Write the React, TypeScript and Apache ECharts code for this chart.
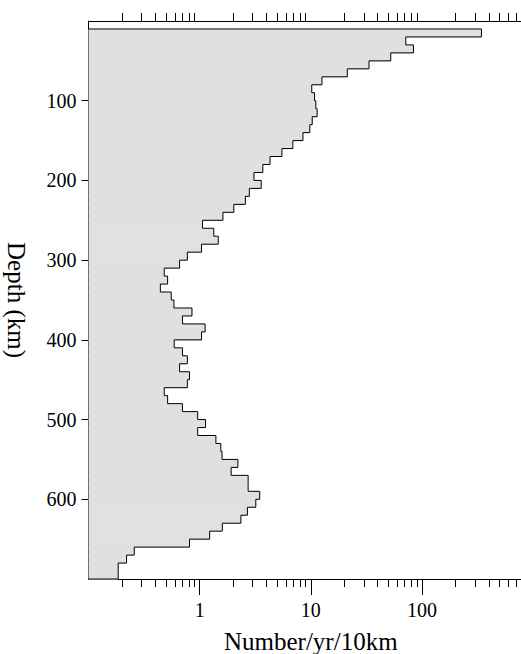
import React, { useEffect, useRef } from "react";
import * as echarts from "echarts";

// Depth bins (top of each 10 km bin), km
const binTops: number[] = [
  10, 20, 30, 40, 50, 60, 70, 80, 90, 100,
  110, 120, 130, 140, 150, 160, 170, 180, 190, 200,
  210, 220, 230, 240, 250, 260, 270, 280, 290, 300,
  310, 320, 330, 340, 350, 360, 370, 380, 390, 400,
  410, 420, 430, 440, 450, 460, 470, 480, 490, 500,
  510, 520, 530, 540, 550, 560, 570, 580, 590, 600,
  610, 620, 630, 640, 650, 660, 670, 680, 690,
];
const binWidth = 10;

// Number of events per year per 10 km
const rates: number[] = [
  343, 71.5, 83.8, 52.4, 33.4, 21.3, 12.6, 10.2, 10.8, 11.1,
  11.4, 10.3, 9.8, 8.5, 6.9, 5.5, 4.3, 3.7, 3.08, 3.58,
  2.8, 2.58, 2.03, 1.62, 1.06, 1.34, 1.47, 1.04, 0.775, 0.66,
  0.48, 0.515, 0.443, 0.555, 0.587, 0.853, 0.7, 1.12, 1.04, 0.59,
  0.7, 0.775, 0.66, 0.81, 0.775, 0.48, 0.515, 0.7, 0.96, 1.13,
  0.96, 1.4, 1.55, 1.59, 2.21, 1.92, 2.73, 2.73, 3.47, 3.2,
  2.69, 2.35, 1.6, 1.23, 0.81, 0.258, 0.22, 0.185, 0.185,
];

const X_MIN = 0.1;
const X_MAX = 1000;
const Y_MIN = 0;
const Y_MAX = 700;

const majorTicks: number[] = [1, 10, 100];
const minorTicks: number[] = [
  0.2, 0.3, 0.4, 0.5, 0.6, 0.7, 0.8, 0.9,
  2, 3, 4, 5, 6, 7, 8, 9,
  20, 30, 40, 50, 60, 70, 80, 90,
  200, 300, 400, 500, 600, 700, 800, 900,
];
const depthTicks: number[] = [100, 200, 300, 400, 500, 600];

const FONT = "'Liberation Serif', 'Times New Roman', serif";

export default function App() {
  const ref = useRef<HTMLDivElement>(null);

  useEffect(() => {
    if (!ref.current) return;
    const chart = echarts.init(ref.current, undefined, { renderer: "svg" });

    const fillData = rates.map((v, i) => [v, binTops[i], binTops[i] + binWidth]);
    const outline: number[][] = [[X_MIN, binTops[0]]];
    rates.forEach((v, i) => {
      outline.push([v, binTops[i]]);
      outline.push([v, binTops[i] + binWidth]);
    });
    outline.push([X_MIN, binTops[binTops.length - 1] + binWidth]);

    const tickStyle = { color: "#000", width: 1 };
    const shownLine = { show: true, onZero: false, lineStyle: { color: "#000", width: 1 } };

    chart.setOption({
      animation: false,
      backgroundColor: "#fff",
      grid: {
        left: 88.5,
        top: 21,
        width: 444.6,
        height: 558,
        outerBoundsMode: "none",
      },
      xAxis: [
        {
          type: "log",
          logBase: 10,
          min: X_MIN,
          max: X_MAX,
          position: "bottom",
          axisLine: shownLine,
          axisTick: {
            show: true,
            customValues: majorTicks,
            length: 16,
            lineStyle: tickStyle,
          },
          axisLabel: {
            show: true,
            customValues: majorTicks,
            margin: 21,
            fontSize: 20,
            fontFamily: FONT,
            color: "#000",
          },
          splitLine: { show: false },
          minorTick: { show: false },
          name: "Number/yr/10km",
          nameLocation: "middle",
          nameGap: 50,
          nameTextStyle: { fontSize: 25, fontFamily: FONT, color: "#000" },
        },
        {
          type: "log",
          logBase: 10,
          min: X_MIN,
          max: X_MAX,
          position: "bottom",
          axisLine: { show: false, onZero: false },
          axisTick: {
            show: true,
            customValues: minorTicks,
            length: 8,
            lineStyle: tickStyle,
          },
          axisLabel: { show: false },
          splitLine: { show: false },
        },
        {
          type: "log",
          logBase: 10,
          min: X_MIN,
          max: X_MAX,
          position: "top",
          axisLine: shownLine,
          axisTick: {
            show: true,
            customValues: minorTicks,
            length: 8,
            lineStyle: tickStyle,
          },
          axisLabel: { show: false },
          splitLine: { show: false },
        },
      ],
      yAxis: {
        type: "value",
        inverse: true,
        min: Y_MIN,
        max: Y_MAX,
        interval: 100,
        axisLine: shownLine,
        axisTick: {
          show: true,
          customValues: depthTicks,
          length: 7,
          lineStyle: tickStyle,
        },
        axisLabel: {
          show: true,
          customValues: depthTicks,
          margin: 12,
          fontSize: 20,
          fontFamily: FONT,
          color: "#000",
        },
        splitLine: { show: false },
        name: "Depth (km)",
        nameLocation: "middle",
        nameRotate: -90,
        nameGap: 60,
        nameTextStyle: { fontSize: 25, fontFamily: FONT, color: "#000" },
      },
      series: [
        {
          type: "custom",
          xAxisIndex: 0,
          yAxisIndex: 0,
          silent: true,
          encode: { x: 0, y: 1 },
          data: fillData,
          z: 1,
          renderItem: (params: any, api: any) => {
            const v = api.value(0);
            const d0 = api.value(1);
            const d1 = api.value(2);
            const p0 = api.coord([X_MIN, d0]);
            const p1 = api.coord([v, d1]);
            return {
              type: "rect",
              shape: {
                x: p0[0],
                y: p0[1],
                width: p1[0] - p0[0],
                height: p1[1] - p0[1] + 0.6,
              },
              style: { fill: "#e0e0e0", stroke: null },
            };
          },
        },
        {
          type: "line",
          xAxisIndex: 0,
          yAxisIndex: 0,
          silent: true,
          showSymbol: false,
          symbol: "none",
          data: outline,
          z: 3,
          lineStyle: { color: "#000", width: 1 },
        },
      ],
    });

    return () => chart.dispose();
  }, []);

  return (
    <div
      style={{
        position: "fixed",
        left: 0,
        top: 0,
        width: 521,
        height: 654,
        overflow: "hidden",
        background: "#fff",
      }}
    >
      <div ref={ref} style={{ width: 545, height: 654 }} />
    </div>
  );
}
